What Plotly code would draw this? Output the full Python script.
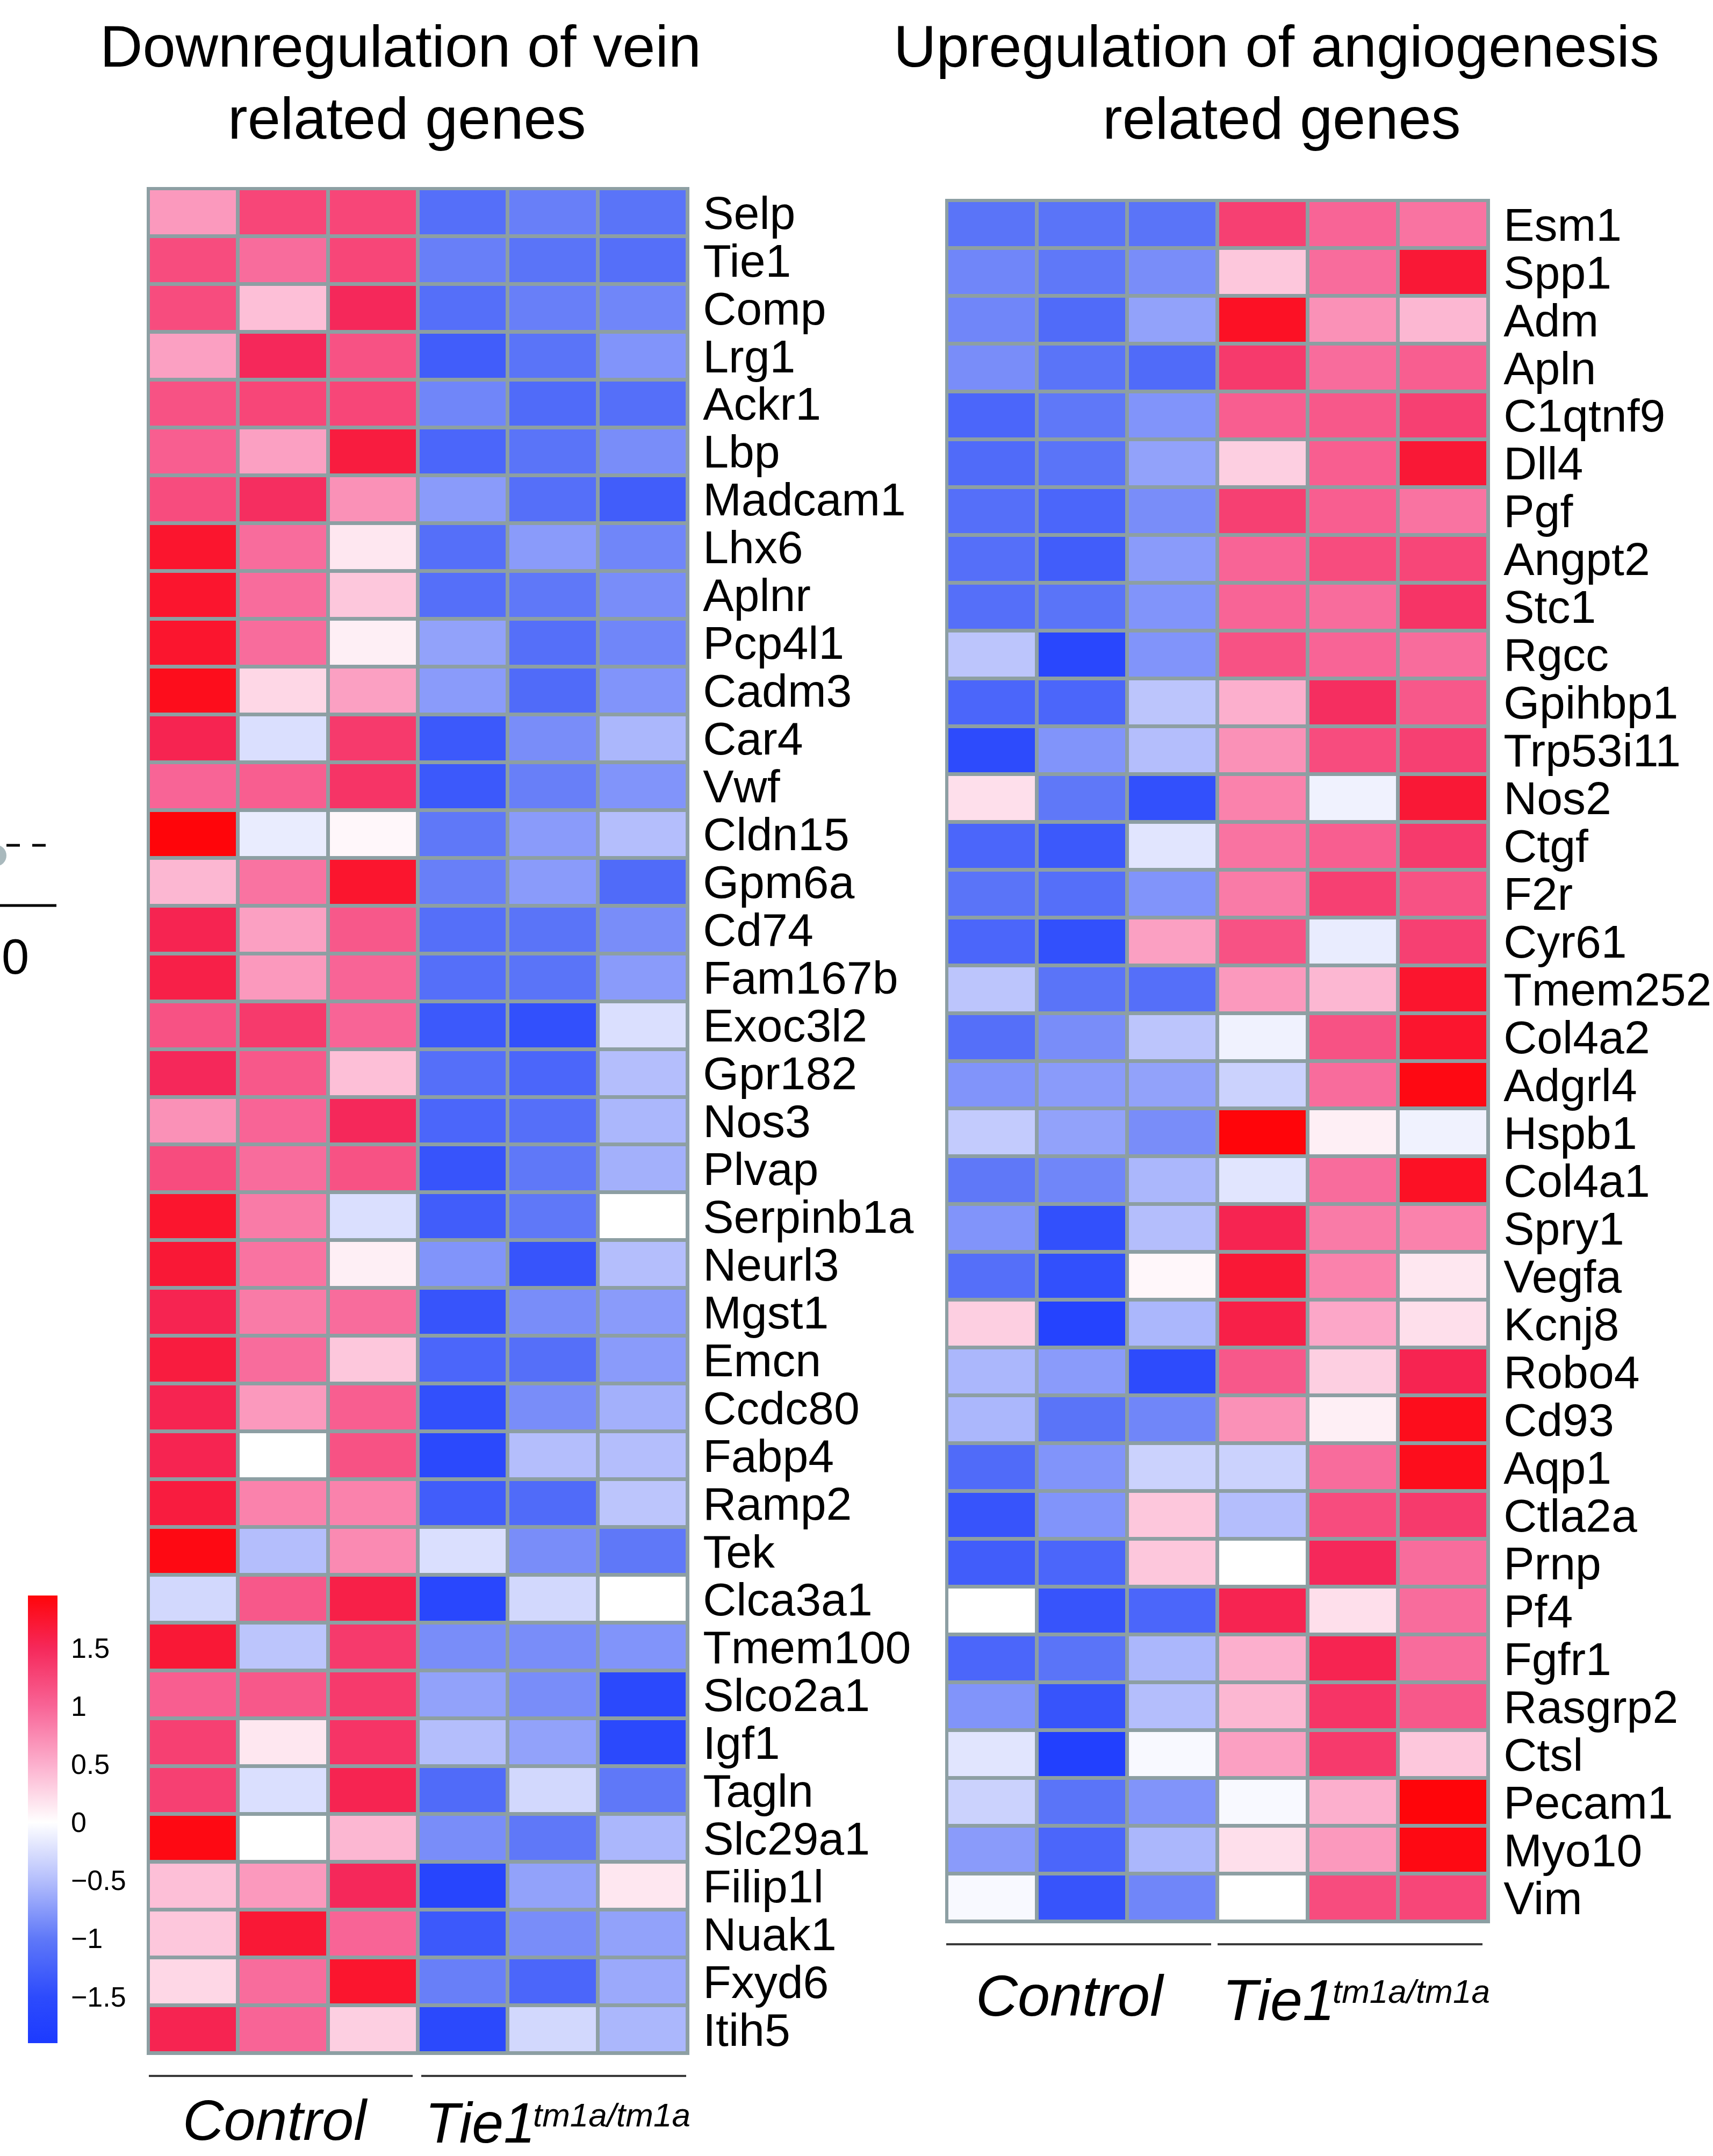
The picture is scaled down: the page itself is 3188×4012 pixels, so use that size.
import plotly.graph_objects as go

# ---------------- data ----------------
samples = ["Control 1", "Control 2", "Control 3", "Tie1 1", "Tie1 2", "Tie1 3"]

vein_genes = ["Selp", "Tie1", "Comp", "Lrg1", "Ackr1", "Lbp", "Madcam1", "Lhx6", "Aplnr",
              "Pcp4l1", "Cadm3", "Car4", "Vwf", "Cldn15", "Gpm6a", "Cd74", "Fam167b",
              "Exoc3l2", "Gpr182", "Nos3", "Plvap", "Serpinb1a", "Neurl3", "Mgst1", "Emcn",
              "Ccdc80", "Fabp4", "Ramp2", "Tek", "Clca3a1", "Tmem100", "Slco2a1", "Igf1",
              "Tagln", "Slc29a1", "Filip1l", "Nuak1", "Fxyd6", "Itih5"]

vein_values = [
    [0.65, 1.25, 1.25, -1.1, -0.95, -1.05],
    [1.2, 0.95, 1.25, -0.95, -1.05, -1.1],
    [1.2, 0.4, 1.5, -1.1, -0.95, -0.9],
    [0.6, 1.5, 1.15, -1.3, -1.05, -0.8],
    [1.15, 1.25, 1.25, -0.9, -1.15, -1.1],
    [1.05, 0.6, 1.65, -1.2, -1.05, -0.85],
    [1.2, 1.45, 0.7, -0.75, -1.1, -1.3],
    [1.75, 0.95, 0.15, -1.1, -0.75, -0.9],
    [1.75, 0.95, 0.35, -1.1, -1.0, -0.85],
    [1.75, 0.95, 0.1, -0.7, -1.1, -0.9],
    [1.85, 0.25, 0.6, -0.75, -1.15, -0.8],
    [1.55, -0.25, 1.35, -1.35, -0.85, -0.55],
    [1.0, 1.05, 1.4, -1.35, -0.95, -0.8],
    [1.95, -0.15, 0.05, -1.0, -0.75, -0.5],
    [0.45, 0.9, 1.75, -0.95, -0.75, -1.15],
    [1.55, 0.6, 1.1, -1.1, -1.05, -0.85],
    [1.6, 0.65, 1.0, -1.1, -1.05, -0.75],
    [1.15, 1.35, 1.0, -1.35, -1.45, -0.25],
    [1.5, 1.1, 0.4, -1.1, -1.2, -0.5],
    [0.7, 1.0, 1.5, -1.2, -1.1, -0.55],
    [1.2, 0.95, 1.15, -1.4, -1.0, -0.6],
    [1.75, 0.85, -0.25, -1.3, -1.0, 0.0],
    [1.7, 0.9, 0.1, -0.8, -1.4, -0.5],
    [1.55, 0.85, 0.95, -1.4, -0.85, -0.75],
    [1.65, 0.95, 0.35, -1.2, -1.1, -0.75],
    [1.55, 0.65, 1.05, -1.45, -0.85, -0.6],
    [1.55, 0.0, 1.15, -1.55, -0.5, -0.5],
    [1.65, 0.8, 0.8, -1.3, -1.15, -0.45],
    [1.9, -0.5, 0.75, -0.25, -0.85, -1.0],
    [-0.3, 1.1, 1.6, -1.6, -0.3, 0.0],
    [1.7, -0.45, 1.35, -0.85, -0.85, -0.8],
    [1.05, 1.1, 1.35, -0.7, -0.85, -1.55],
    [1.3, 0.15, 1.4, -0.5, -0.7, -1.55],
    [1.3, -0.25, 1.55, -1.15, -0.3, -1.0],
    [1.9, 0.0, 0.45, -0.85, -1.0, -0.55],
    [0.4, 0.65, 1.5, -1.65, -0.7, 0.15],
    [0.35, 1.7, 1.0, -1.35, -0.85, -0.7],
    [0.25, 0.95, 1.75, -0.95, -1.2, -0.65],
    [1.55, 1.0, 0.3, -1.55, -0.3, -0.55],
]

angio_genes = ["Esm1", "Spp1", "Adm", "Apln", "C1qtnf9", "Dll4", "Pgf", "Angpt2", "Stc1",
               "Rgcc", "Gpihbp1", "Trp53i11", "Nos2", "Ctgf", "F2r", "Cyr61", "Tmem252",
               "Col4a2", "Adgrl4", "Hspb1", "Col4a1", "Spry1", "Vegfa", "Kcnj8", "Robo4",
               "Cd93", "Aqp1", "Ctla2a", "Prnp", "Pf4", "Fgfr1", "Rasgrp2", "Ctsl",
               "Pecam1", "Myo10", "Vim"]

angio_values = [
    [-1.05, -1.05, -1.05, 1.3, 1.0, 0.9],
    [-0.9, -1.0, -0.85, 0.35, 0.95, 1.7],
    [-0.9, -1.15, -0.7, 1.8, 0.7, 0.45],
    [-0.85, -1.05, -1.15, 1.35, 0.95, 1.05],
    [-1.2, -1.0, -0.8, 1.05, 1.1, 1.3],
    [-1.15, -1.05, -0.7, 0.3, 1.05, 1.7],
    [-1.1, -1.2, -0.85, 1.3, 1.05, 0.9],
    [-1.1, -1.3, -0.75, 1.0, 1.2, 1.25],
    [-1.1, -1.05, -0.8, 1.0, 0.95, 1.4],
    [-0.45, -1.6, -0.8, 1.15, 1.0, 0.95],
    [-1.2, -1.2, -0.45, 0.5, 1.45, 1.1],
    [-1.5, -0.8, -0.5, 0.7, 1.2, 1.3],
    [0.2, -1.0, -1.45, 0.8, -0.1, 1.7],
    [-1.2, -1.35, -0.2, 0.9, 1.05, 1.35],
    [-1.05, -1.1, -0.8, 0.85, 1.3, 1.15],
    [-1.2, -1.45, 0.6, 1.15, -0.15, 1.3],
    [-0.45, -1.05, -1.1, 0.65, 0.45, 1.75],
    [-1.1, -0.85, -0.45, -0.1, 1.15, 1.75],
    [-0.8, -0.75, -0.7, -0.35, 0.95, 1.9],
    [-0.4, -0.7, -0.85, 1.95, 0.1, -0.1],
    [-1.0, -0.9, -0.55, -0.2, 0.95, 1.8],
    [-0.8, -1.45, -0.5, 1.55, 0.85, 0.8],
    [-1.1, -1.45, 0.05, 1.7, 0.8, 0.15],
    [0.3, -1.7, -0.55, 1.6, 0.55, 0.2],
    [-0.55, -0.75, -1.5, 1.1, 0.3, 1.55],
    [-0.55, -1.05, -0.9, 0.7, 0.1, 1.85],
    [-1.15, -0.8, -0.35, -0.35, 0.95, 1.85],
    [-1.4, -0.8, 0.35, -0.5, 1.2, 1.35],
    [-1.3, -1.2, 0.35, 0.0, 1.5, 0.95],
    [0.0, -1.4, -1.2, 1.55, 0.2, 0.95],
    [-1.2, -1.05, -0.55, 0.5, 1.55, 0.95],
    [-0.8, -1.4, -0.5, 0.45, 1.4, 1.1],
    [-0.2, -1.75, -0.05, 0.6, 1.35, 0.35],
    [-0.35, -1.05, -0.8, -0.05, 0.5, 1.95],
    [-0.75, -1.2, -0.55, 0.2, 0.65, 1.9],
    [-0.05, -1.4, -0.9, 0.0, 1.2, 1.25],
]

cbar_tickvals = [1.5, 1, 0.5, 0, -0.5, -1, -1.5]
cbar_ticktext = ["1.5", "1", "0.5", "0", "\u22120.5", "\u22121", "\u22121.5"]

ZMIN, ZMAX = -1.9, 1.95

# ---------------- styling ----------------
W, H = 3188, 4012
def px(x):
    return x / W
def py(y):
    return 1 - y / H

def norm(v):
    return (v - ZMIN) / (ZMAX - ZMIN)

colorscale = [
    [0.0, "rgb(28,58,255)"],
    [norm(-1.5), "rgb(45,75,252)"],
    [norm(-1.0), "rgb(95,120,248)"],
    [norm(-0.5), "rgb(180,190,252)"],
    [norm(0.0), "rgb(255,255,255)"],
    [norm(0.5), "rgb(252,175,205)"],
    [norm(1.0), "rgb(248,100,150)"],
    [norm(1.5), "rgb(245,40,90)"],
    [1.0, "rgb(255,5,10)"],
]

FONT = "Arial, Liberation Sans, Helvetica, sans-serif"
GRID = "#8d9fa3"

fig = go.Figure()
fig.add_trace(go.Heatmap(
    z=vein_values, x=samples, y=vein_genes, colorscale=colorscale,
    zmin=ZMIN, zmax=ZMAX, xgap=7, ygap=7, xaxis="x", yaxis="y",
    showscale=True,
    colorbar=dict(
        x=px(52), xanchor="left", y=py(3385.5), yanchor="middle",
        len=833 / H, lenmode="fraction", thickness=55, thicknessmode="pixels",
        outlinewidth=0, xpad=0, ypad=0,
        tickvals=cbar_tickvals, ticktext=cbar_ticktext,
        tickfont=dict(size=52, color="black", family=FONT),
        ticks="outside", ticklen=15, tickcolor="rgba(0,0,0,0)",
    ),
))
fig.add_trace(go.Heatmap(
    z=angio_values, x=samples, y=angio_genes, colorscale=colorscale,
    zmin=ZMIN, zmax=ZMAX, xgap=7, ygap=7, xaxis="x2", yaxis="y2",
    showscale=False,
))

xcommon = dict(showticklabels=False, showgrid=False, zeroline=False, ticks="",
               showline=False, automargin=False)
ycommon = dict(side="right", autorange="reversed", showgrid=False, zeroline=False,
               ticks="outside", ticklen=10, tickcolor="rgba(0,0,0,0)",
               tickfont=dict(size=86, color="black", family=FONT), showline=False,
               automargin=False, tickmode="array")

fig.update_layout(
    width=W, height=H,
    margin=dict(l=0, r=0, t=0, b=0, autoexpand=False),
    paper_bgcolor="white", plot_bgcolor=GRID,
    font=dict(family=FONT, color="black"),
    xaxis=dict(domain=[px(276), px(1280)], anchor="y", **xcommon),
    yaxis=dict(domain=[py(3821), py(351)], anchor="x", tickvals=vein_genes, **ycommon),
    xaxis2=dict(domain=[px(1762), px(2770)], anchor="y2", **xcommon),
    yaxis2=dict(domain=[py(3576), py(373)], anchor="x2", tickvals=angio_genes, **ycommon),
)

shapes = []
# outer borders of heatmaps
for xr, yr in (("x domain", "y domain"), ("x2 domain", "y2 domain")):
    shapes.append(dict(type="rect", xref=xr, yref=yr, x0=0, x1=1, y0=0, y1=1,
                       line=dict(color=GRID, width=6), fillcolor="rgba(0,0,0,0)"))
# group bars
for (x0, x1, yy) in ((277, 768, 3863), (784, 1277, 3863), (1761, 2254, 3618), (2266, 2759, 3618)):
    shapes.append(dict(type="line", xref="paper", yref="paper",
                       x0=px(x0), x1=px(x1), y0=py(yy), y1=py(yy),
                       line=dict(color="#3a3a3a", width=4)))
# remnants of neighbouring panel at the left edge
shapes.append(dict(type="circle", xref="paper", yref="paper",
                   x0=px(-28), x1=px(12), y0=py(1612), y1=py(1572),
                   fillcolor="#a9b9bd", line=dict(width=0)))
for (x0, x1) in ((12, 37), (60, 85)):
    shapes.append(dict(type="line", xref="paper", yref="paper",
                       x0=px(x0), x1=px(x1), y0=py(1573), y1=py(1573),
                       line=dict(color="black", width=5)))
shapes.append(dict(type="line", xref="paper", yref="paper",
                   x0=px(0), x1=px(105), y0=py(1685), y1=py(1685),
                   line=dict(color="black", width=5)))
fig.update_layout(shapes=shapes)

ann = []
def text(x, y, s, size, xanchor="center", italic=False):
    if italic:
        s = "<i>" + s + "</i>"
    ann.append(dict(x=px(x), y=py(y), xref="paper", yref="paper", text=s,
                    showarrow=False, xanchor=xanchor, yanchor="middle",
                    font=dict(size=size, color="black", family=FONT)))

text(745, 86, "Downregulation of vein", 110)
text(757, 219, "related genes", 110)
text(2375, 86, "Upregulation of angiogenesis", 110)
text(2385, 219, "related genes", 110)

text(512, 3945, "Control", 106, italic=True)
text(789, 3950, "Tie1", 106, xanchor="left", italic=True)
text(990, 3935, "tm1a/tm1a", 62, xanchor="left", italic=True)

text(1991, 3713, "Control", 108, italic=True)
text(2273, 3721, "Tie1", 108, xanchor="left", italic=True)
text(2478, 3705, "tm1a/tm1a", 62, xanchor="left", italic=True)

text(28, 1780, "0", 92)

fig.update_layout(annotations=ann)

fig.write_html("out.html", config={"displayModeBar": False},
               post_script="document.body.style.margin='0';document.body.style.overflow='hidden';")
